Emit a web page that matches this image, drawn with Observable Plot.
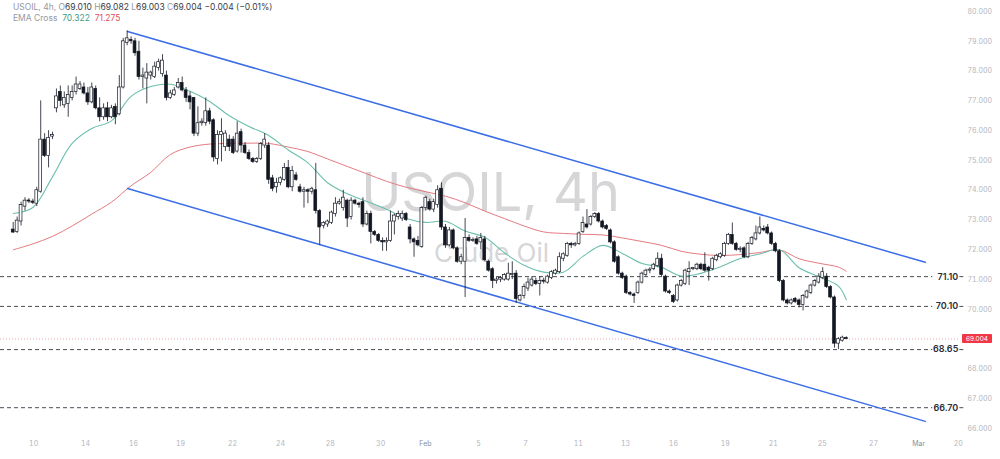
<!DOCTYPE html>
<html><head><meta charset="utf-8">
<script src="https://cdn.jsdelivr.net/npm/d3@7"></script>
<script src="https://cdn.jsdelivr.net/npm/@observablehq/plot@0.6"></script>
<style>
body{margin:0;background:#fff;font-family:Inter,"Noto Sans",sans-serif;}
#wrap{position:relative;width:1000px;height:459px;overflow:hidden;}
#legend{position:absolute;left:13px;top:2px;font-size:8.5px;line-height:11px;color:#9598a1;white-space:nowrap;}
#legend .v{color:#3a3d45;}
</style></head><body>
<div id="wrap"><div id="chart"></div>
<div id="legend">
<div>USOIL, 4h, O<span class="v">69.010</span> H<span class="v">69.082</span> L<span class="v">69.003</span> C<span class="v">69.004</span> <span class="v">−0.004 (−0.01%)</span></div>
<div>EMA Cross&nbsp; <span style="color:#3f9c88">70.322</span>&nbsp; <span style="color:#e0505e">71.275</span></div>
</div></div>
<script>
const opens = [72.68,72.60,72.95,73.45,73.65,73.62,73.55,73.95,75.70,75.15,75.80,76.75,77.30,76.85,76.90,77.10,77.30,77.40,77.45,77.25,76.95,77.40,76.75,76.45,76.75,76.45,76.80,76.55,77.45,78.95,79.05,79.00,78.65,77.80,77.75,77.85,77.80,78.10,77.90,77.85,77.10,77.20,77.45,77.60,77.35,77.15,77.10,75.90,76.25,76.25,76.65,76.35,75.05,75.85,75.45,75.70,75.70,75.30,75.95,75.50,75.25,75.05,74.95,75.05,75.50,75.50,74.40,74.10,74.25,74.35,74.75,74.10,74.50,74.10,73.95,74.00,73.95,74.00,73.30,72.80,72.85,72.90,73.20,73.55,73.40,73.65,73.10,73.65,73.55,73.60,72.85,73.20,72.60,72.50,72.30,72.25,72.30,72.95,73.10,73.05,73.20,72.75,72.35,72.30,72.10,73.40,73.60,73.35,73.50,74.05,72.75,72.15,72.65,72.05,71.60,71.60,72.40,72.30,72.35,72.25,72.35,71.60,71.35,70.95,71.00,71.00,71.00,71.15,71.20,70.30,70.45,70.70,70.80,70.95,70.85,70.95,70.90,71.05,71.20,71.25,71.70,71.80,72.20,72.15,72.20,72.60,72.85,72.85,73.10,73.20,72.95,72.80,72.65,72.25,71.75,71.20,71.10,70.55,70.50,70.55,70.90,71.15,71.30,71.35,71.45,71.70,71.10,70.60,70.45,70.30,70.80,70.85,71.25,71.35,71.35,71.50,71.50,71.40,71.35,71.65,71.75,71.80,72.20,72.50,72.20,72.00,72.05,71.75,72.20,72.35,72.55,72.70,72.75,72.55,72.20,71.95,70.95,70.30,70.20,70.35,70.30,70.15,70.40,70.55,70.80,70.90,71.05,71.10,70.75,70.40,68.85,68.95,69.01];
const highs = [72.92,73.10,73.60,73.75,73.72,73.70,74.10,77.00,75.90,76.00,75.95,77.40,77.50,77.30,77.50,77.50,77.80,77.65,77.60,77.45,77.60,77.50,77.10,76.90,76.95,76.85,76.90,77.85,79.10,79.35,79.15,79.10,79.00,78.10,78.25,78.00,78.30,78.40,78.55,78.00,77.35,77.45,77.75,77.80,77.45,77.30,77.10,76.80,76.40,77.10,76.75,76.40,76.00,76.40,76.00,75.85,75.80,76.30,76.05,75.60,75.35,75.10,75.10,75.60,75.90,75.60,74.50,74.40,74.45,74.90,75.00,74.80,74.60,74.20,74.10,74.05,74.10,74.90,73.35,72.95,73.00,73.30,73.75,73.70,74.00,73.70,73.75,73.70,73.60,73.75,73.30,73.30,72.65,72.55,72.40,72.40,73.30,73.20,73.30,73.30,73.25,72.85,72.40,72.45,73.45,73.80,73.70,73.70,74.15,74.25,72.85,72.75,72.70,72.10,71.85,73.05,72.50,72.40,72.45,72.55,72.45,71.65,71.40,71.10,71.10,71.20,71.55,71.60,71.30,70.50,70.85,71.05,71.10,71.05,71.10,71.05,71.15,71.30,71.35,71.90,71.90,72.25,72.25,72.25,72.60,73.10,73.35,73.15,73.25,73.25,73.00,72.85,72.70,72.30,71.80,71.25,71.15,70.60,70.55,70.95,71.25,71.35,71.40,71.55,71.90,71.85,71.15,70.65,70.50,70.85,71.00,71.35,71.60,71.40,71.55,71.55,71.90,71.45,71.75,71.85,71.90,72.25,72.55,72.90,72.25,72.10,72.10,72.25,72.45,72.80,73.10,72.80,72.85,72.60,72.25,72.00,71.00,70.35,70.35,70.40,70.35,70.50,70.65,70.85,71.00,71.20,71.40,71.20,70.80,70.45,69.05,69.10,69.08];
const lows = [72.55,72.55,72.80,73.30,73.55,73.52,73.45,73.90,75.10,74.75,75.70,76.60,76.80,76.75,76.45,77.00,77.20,77.35,77.20,76.85,76.90,76.70,76.30,76.35,76.30,76.40,76.20,76.50,77.40,78.85,78.90,78.50,77.70,77.40,76.90,77.70,77.75,78.00,77.80,77.00,77.05,77.15,77.40,77.30,76.95,76.70,75.80,75.80,76.15,76.15,76.20,74.95,74.85,74.95,75.30,75.30,75.20,75.25,75.25,75.20,75.00,74.90,74.90,75.00,75.40,74.20,73.95,73.90,74.15,74.30,74.05,73.95,74.30,73.90,73.40,73.55,73.85,73.20,72.15,72.70,72.75,72.85,73.10,73.50,73.30,72.75,73.00,73.50,73.40,72.75,72.80,72.20,72.45,72.25,71.95,71.95,72.25,72.50,73.00,72.95,72.95,72.20,71.75,72.10,72.05,73.30,73.30,73.25,73.40,72.65,72.05,72.10,72.00,71.55,71.50,70.40,72.25,72.25,72.15,72.00,71.60,71.25,70.70,70.85,70.90,70.95,70.95,71.00,70.20,70.25,70.35,70.60,70.75,70.80,70.45,70.85,70.85,71.00,71.15,71.20,71.60,71.75,72.05,72.10,72.15,72.55,72.70,72.80,73.05,72.90,72.70,72.65,72.20,71.55,71.15,71.00,70.50,70.45,70.20,70.50,70.85,71.10,71.20,71.30,71.40,71.10,70.55,70.50,70.20,70.25,70.75,70.80,70.80,71.30,71.30,71.30,71.25,70.95,71.30,71.60,71.70,71.75,72.15,72.15,71.95,71.90,71.70,71.70,72.15,72.30,72.50,72.60,72.50,72.15,71.90,70.90,70.25,70.15,70.15,70.20,70.05,69.95,70.35,70.50,70.75,70.85,71.00,70.70,70.35,68.70,68.65,68.90,69.00];
const closes = [72.58,72.98,73.50,73.65,73.62,73.58,74.00,75.70,75.15,75.75,75.85,77.15,77.00,77.10,77.20,77.30,77.55,77.55,77.25,76.95,77.45,76.75,76.45,76.75,76.45,76.75,76.45,77.45,79.00,79.10,79.00,78.60,77.80,77.85,77.95,77.95,78.15,78.30,78.35,77.10,77.25,77.35,77.60,77.35,77.10,76.95,75.90,76.25,76.30,76.65,76.30,75.10,75.85,75.95,75.90,75.45,75.25,75.90,75.50,75.25,75.05,74.95,75.05,75.55,75.70,74.35,74.05,74.25,74.40,74.75,74.10,74.65,74.35,73.95,74.00,73.95,74.05,73.30,72.75,72.90,72.95,73.25,73.55,73.60,73.75,73.05,73.65,73.55,73.50,72.85,73.20,72.60,72.50,72.30,72.25,72.30,72.95,73.15,73.20,73.20,73.00,72.35,72.25,72.15,73.40,73.75,73.35,73.60,74.00,72.75,72.15,72.65,72.05,71.60,71.75,72.40,72.30,72.32,72.20,72.40,71.65,71.30,70.95,71.00,71.05,71.15,71.20,71.15,70.35,70.45,70.75,70.90,71.00,70.85,70.95,70.93,71.10,71.25,71.30,71.75,71.85,72.20,72.15,72.20,72.55,72.90,72.75,73.10,73.20,72.95,72.75,72.70,72.25,71.60,71.20,71.05,70.55,70.50,70.45,70.90,71.20,71.30,71.32,71.50,71.70,71.15,70.60,70.55,70.25,70.80,70.95,71.30,71.35,71.35,71.50,71.35,71.30,71.30,71.70,71.80,71.85,72.20,72.50,72.20,72.00,72.02,71.75,72.20,72.40,72.55,72.75,72.65,72.55,72.20,71.95,70.95,70.30,70.20,70.30,70.25,70.15,70.45,70.60,70.80,70.95,71.10,71.25,70.75,70.40,68.85,69.00,69.05,69.00];

const emaIdx = [0,5,10,15,20,25,30,35,40,45,50,55,60,65,70,75,80,85,90,95,100,105,110,115,120,125,130,135,140,145,150,155,160,165,170,175,180,185,190,195,200,205,210,212];
const emaFast = [73.22,73.42,74.45,75.57,76.07,76.33,77.15,77.48,77.56,77.32,76.98,76.50,76.14,75.84,75.35,74.92,74.25,73.88,73.62,73.36,73.05,72.92,72.96,72.63,72.42,71.90,71.48,71.25,71.25,71.78,72.15,71.88,71.54,71.41,71.12,71.21,71.43,71.71,71.86,72.00,71.40,71.10,70.78,70.32];
const emaSlow = [72.00,72.20,72.45,72.80,73.20,73.60,74.15,74.60,75.20,75.45,75.55,75.57,75.58,75.57,75.45,75.30,75.05,74.80,74.55,74.30,74.10,73.95,73.80,73.58,73.30,73.05,72.80,72.60,72.55,72.52,72.50,72.40,72.28,72.15,71.95,71.85,71.81,71.84,71.91,72.00,71.70,71.55,71.42,71.28];

const chanX = [29.1, 232.1];
const chanUpper = [79.33, 71.58];
const chanLower = [74.06, 66.24];

const levels = [71.10, 70.10, 68.65, 66.70];
const lastPrice = 69.004;

const yTicks = [66,67,68,70,71,72,73,74,75,76,77,78,79,80];
const xTickIdx = [5.2,18.4,30.6,42.6,55.8,68.0,80.7,93.5,104.9,118.4,130.4,143.8,155.8,168.0,181.2,193.4,205.9,218.9,230.4,240.5];
const xTickLabels = ["10","14","16","19","22","24","28","30","Feb","5","7","11","13","16","19","21","25","27","Mar","20"];

const watermark = ["USOIL, 4h"];
const watermarkSub = ["Crude Oil"];

const candles = opens.map((o, i) => ({i, o, h: Math.max(highs[i], o, closes[i]), l: Math.min(lows[i], o, closes[i]), c: closes[i]}));
const labelOf = new Map(xTickIdx.map((d, k) => [d, xTickLabels[k]]));
const fast = emaIdx.map((i, k) => ({i, v: emaFast[k]}));
const slow = emaIdx.map((i, k) => ({i, v: emaSlow[k]}));
const upper = chanX.map((x, k) => ({x, y: chanUpper[k]}));
const lower = chanX.map((x, k) => ({x, y: chanLower[k]}));

const xMin = -3.2316, xMax = 241.06;
const ink = "#131722";

const chart = Plot.plot({
  width: 1000, height: 459,
  marginLeft: 0, marginRight: 40, marginTop: 0, marginBottom: 25,
  x: {domain: [xMin, xMax]},
  y: {domain: [65.80, 80.37]},
  style: {background: "#fff", color: "#b2b5be", fontFamily: "Inter, 'Noto Sans', sans-serif", overflow: "visible"},
  marks: [
    Plot.axisY({anchor: "right", ticks: yTicks, tickFormat: d => d.toFixed(3), tickSize: 0, tickPadding: 7, fontSize: 7, label: null}),
    Plot.axisX({ticks: xTickIdx, tickFormat: d => labelOf.get(d), tickSize: 0, tickPadding: 7, fontSize: 7, label: null,
      fill: d => (labelOf.get(d) === "Feb" || labelOf.get(d) === "Mar") ? "#8a8d96" : "#b2b5be"}),
    Plot.text(watermark, {frameAnchor: "top-left", dx: 490, dy: 210, text: d => d, fontSize: 54, fill: "#d6d6d8", textAnchor: "middle", lineAnchor: "bottom"}),
    Plot.text(watermarkSub, {frameAnchor: "top-left", dx: 491, dy: 261, text: d => d, fontSize: 26, fill: "#d6d6d8", textAnchor: "middle", lineAnchor: "bottom"}),
    Plot.ruleY(levels, {y: d => d, x1: () => xMin, x2: () => 234, stroke: "#4a4d55", strokeWidth: 1, strokeDasharray: "4,3"}),
    Plot.ruleY(levels, {y: d => d, x1: () => 240.9, x2: () => 241.9, stroke: "#4a4d55", strokeWidth: 1}),
    Plot.text(levels, {x: () => 240.5, y: d => d, text: d => d.toFixed(2), textAnchor: "end", fill: "#2a2e39", fontSize: 9, fontWeight: 600}),
    Plot.ruleY([lastPrice], {y: d => d, x1: () => xMin, x2: () => xMax, stroke: "#f23645", strokeOpacity: 0.55, strokeWidth: 0.8, strokeDasharray: "1,2"}),
    Plot.line(slow, {x: "i", y: "v", stroke: "#e57b80", strokeWidth: 1, curve: "catmull-rom"}),
    Plot.line(fast, {x: "i", y: "v", stroke: "#6cbfae", strokeWidth: 1.1, curve: "catmull-rom"}),
    Plot.line(upper, {x: "x", y: "y", stroke: "#3b6ee6", strokeWidth: 1.5}),
    Plot.line(lower, {x: "x", y: "y", stroke: "#3b6ee6", strokeWidth: 1.5}),
    Plot.ruleX(candles, {x: "i", y1: "l", y2: "h", stroke: ink, strokeWidth: 0.8}),
    Plot.rect(candles, {
      x1: d => d.i - 0.36, x2: d => d.i + 0.36,
      y1: d => Math.min(d.o, d.c),
      y2: d => Math.max(d.o, d.c, Math.min(d.o, d.c) + 0.035),
      fill: d => d.c >= d.o ? "#ffffff" : ink,
      stroke: ink, strokeWidth: 0.7
    })
  ]
});
document.getElementById("chart").appendChild(chart);

const yPix = chart.scale("y").apply(lastPrice);
const svg = d3.select(chart);
svg.append("rect").attr("x", 962).attr("y", yPix - 4.5).attr("width", 30).attr("height", 9).attr("rx", 1).attr("fill", "#f23645");
svg.append("text").attr("x", 977).attr("y", yPix + 2.3).attr("text-anchor", "middle").attr("font-size", 6.5).attr("fill", "#fff").text(lastPrice.toFixed(3));
</script>
</body></html>
